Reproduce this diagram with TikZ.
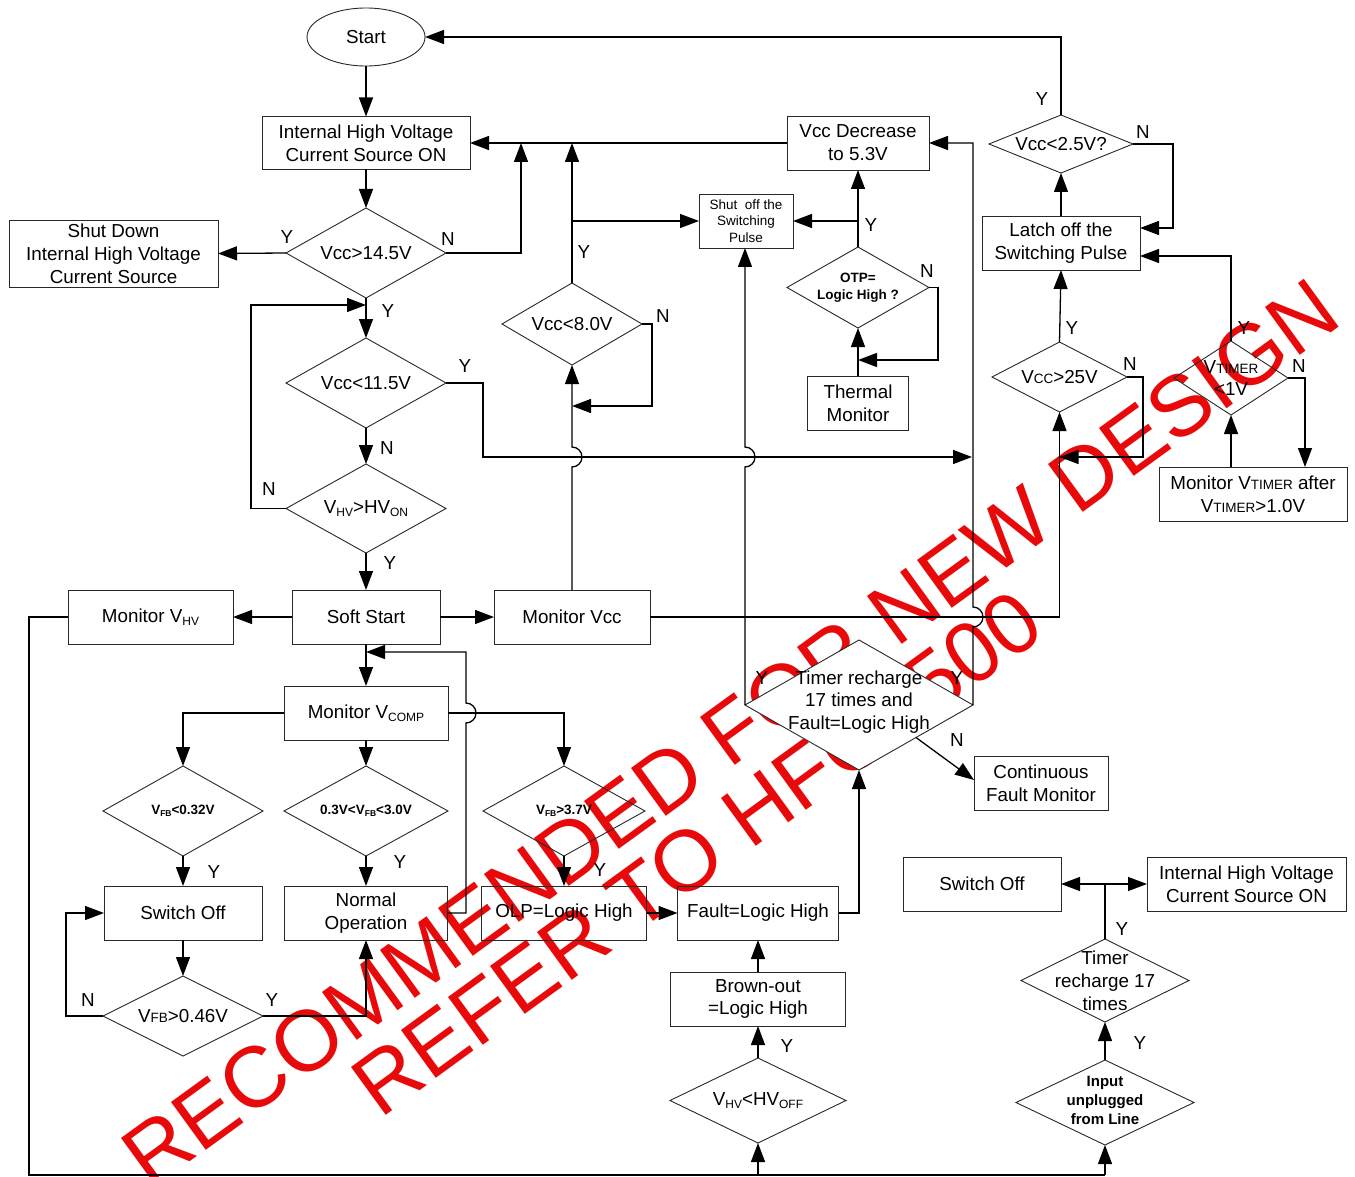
\documentclass[tikz,border=0pt]{standalone}
\usepackage{fontspec}
\setmainfont{Liberation Sans}
\usetikzlibrary{shapes.geometric,arrows.meta}
\newcommand{\myfn}{\fontsize{18.8}{22.8}\selectfont}
\newcommand{\mysmall}{\fontsize{13.5}{16.8}\selectfont}
\newcommand{\mybold}{\fontsize{13.5}{17}\selectfont\bfseries}
\newcommand{\sbs}[1]{\raisebox{-2.5pt}{\fontsize{12}{12}\selectfont #1}}
\newcommand{\smc}[1]{{\fontsize{13.5}{13.5}\selectfont #1}}
\newcommand{\sbb}[1]{\raisebox{-1.5pt}{\fontsize{8.5}{8.5}\selectfont #1}}
\definecolor{wmred}{RGB}{232,10,10}
\definecolor{edge}{RGB}{40,40,40}
\begin{document}
\begin{tikzpicture}[x=1pt,y=1pt,
  box/.style={draw=edge, line width=0.9pt, rectangle, inner sep=0pt, outer sep=0pt, align=center, font=\myfn},
  dia/.style={draw=edge, line width=0.9pt, diamond, inner sep=0pt, outer sep=0pt},
  dtxt/.style={align=center, inner sep=0pt, font=\myfn},
  ar/.style={line width=1.3pt, -{Triangle[length=19pt,width=14pt]}},
  ln/.style={line width=1.3pt},
  lab/.style={font=\myfn, inner sep=0pt},
  wm/.style={text=wmred, rotate=36, inner sep=0pt, font=\fontsize{86}{90}\selectfont}
]
\useasboundingbox (0,0) rectangle (1355,-1177);
\fill[white] (0,0) rectangle (1355,-1177);

% ---------- watermark (behind the chart) ----------
\node[wm] (wm1) at (730,-733) {RECOMMENDED FOR NEW DESIGN};
\node[wm] (wm2) at (697,-853) {REFER TO HFC0500};

% ---------- nodes ----------
\node[box, ellipse, minimum width=118pt, minimum height=58pt] (start) at (366,-37) {Start};
\node[box, minimum width=208pt, minimum height=53pt] (ihv) at (366,-143) {Internal High Voltage\\Current Source ON};
\node[box, minimum width=209pt, minimum height=67pt] (shut) at (113.5,-253.5) {Shut Down\\Internal High Voltage\\Current Source};
\node[dia, minimum width=160pt, minimum height=90pt] (d145) at (366,-253) {};
\node[dtxt] (t145) at (d145) {Vcc>14.5V};
\node[dia, minimum width=160pt, minimum height=90pt] (d115) at (366,-383) {};
\node[dtxt] (t115) at (d115) {Vcc<11.5V};
\node[dia, minimum width=160pt, minimum height=89pt] (dhv) at (366,-508.5) {};
\node[dtxt] (thv) at (dhv) {V\sbs{HV}>HV\sbs{ON}};
\node[box, minimum width=148pt, minimum height=54pt] (soft) at (366,-617) {Soft Start};
\node[box, minimum width=165pt, minimum height=54pt] (mhv) at (150.5,-617) {Monitor V\sbs{HV}};
\node[box, minimum width=156pt, minimum height=54pt] (mvcc) at (572,-617) {Monitor Vcc};
\node[box, minimum width=164pt, minimum height=54pt] (mcomp) at (366,-713) {Monitor V\sbs{COMP}};
\node[dia, minimum width=160pt, minimum height=90pt] (d032) at (183,-811) {};
\node[dtxt, font=\mybold] (t032) at (d032) {V\sbb{FB}<0.32V};
\node[dia, minimum width=164pt, minimum height=90pt] (d30) at (366,-811) {};
\node[dtxt, font=\mybold] (t30) at (d30) {0.3V<V\sbb{FB}<3.0V};
\node[dia, minimum width=162pt, minimum height=90pt] (d37) at (564,-811) {};
\node[dtxt, font=\mybold] (t37) at (d37) {V\sbb{FB}>3.7V};
\node[box, minimum width=158pt, minimum height=54pt] (swoff) at (183,-913) {Switch Off};
\node[box, minimum width=163pt, minimum height=54pt] (normal) at (366,-913) {Normal\\Operation};
\node[box, minimum width=165pt, minimum height=54pt] (olp) at (564,-913) {OLP=Logic High};
\node[box, minimum width=161pt, minimum height=54pt] (fault) at (758,-913) {Fault=Logic High};
\node[dia, minimum width=160pt, minimum height=80pt] (d046) at (183,-1016) {};
\node[dtxt] (t046) at (d046) {V\smc{FB}>0.46V};
\node[box, minimum width=175pt, minimum height=54pt] (brown) at (758,-999) {Brown-out\\=Logic High};
\node[dia, minimum width=176pt, minimum height=85pt] (dhvoff) at (758,-1100.5) {};
\node[dtxt] (thvoff) at (dhvoff) {V\sbs{HV}<HV\sbs{OFF}};
\node[dia, fill=white, minimum width=228pt, minimum height=130pt] (dtimer) at (859,-705) {};
\node[dtxt] (ttimer) at (859,-702) {Timer recharge\\17 times and\\Fault=Logic High};
\node[box, minimum width=134pt, minimum height=54pt] (cont) at (1041,-783) {Continuous\\Fault Monitor};
\node[box, minimum width=158pt, minimum height=54pt] (swoff2) at (982,-884) {Switch Off};
\node[box, minimum width=199pt, minimum height=54pt] (ihv2) at (1246.5,-884) {Internal High Voltage\\Current Source ON};
\node[dia, minimum width=168pt, minimum height=83pt] (d17) at (1105,-980.5) {};
\node[dtxt] (t17) at (d17) {Timer\\recharge 17\\times};
\node[dia, minimum width=178pt, minimum height=85pt] (dinput) at (1105,-1102.5) {};
\node[dtxt, font=\fontsize{15}{19}\selectfont\bfseries] (tinput) at (1105,-1100) {Input\\unplugged\\from Line};
\node[dia, minimum width=140pt, minimum height=82pt] (d8) at (572,-324) {};
\node[dtxt] (t8) at (d8) {Vcc<8.0V};
\node[box, font=\mysmall, minimum width=94pt, minimum height=54pt] (shutoff) at (746,-221) {Shut\ \ off the\\Switching\\Pulse};
\node[box, minimum width=142pt, minimum height=54pt] (vccdec) at (858,-143) {Vcc Decrease\\to 5.3V};
\node[dia, minimum width=142pt, minimum height=81pt] (dotp) at (858,-287.5) {};
\node[dtxt, font=\mybold] (totp) at (dotp) {OTP=\\Logic High ?};
\node[box, minimum width=101pt, minimum height=54pt] (thermal) at (858,-403) {Thermal\\Monitor};
\node[dia, minimum width=144pt, minimum height=58pt] (d25) at (1061,-144) {};
\node[dtxt] (t25) at (d25) {Vcc<2.5V?};
\node[box, minimum width=158pt, minimum height=54pt] (latch) at (1061,-243) {Latch off the\\Switching Pulse};
\node[dia, minimum width=135pt, minimum height=70pt] (d25v) at (1059.5,-377) {};
\node[dtxt] (t25v) at (d25v) {V\smc{CC}>25V};
\node[dia, minimum width=114pt, minimum height=74pt] (dtim) at (1231,-378) {};
\node[dtxt] (ttim) at (1231,-378) {V\smc{TIMER}\\<1V};
\node[box, minimum width=188pt, minimum height=54pt] (mtimer) at (1253,-494) {Monitor V\smc{TIMER} after\\V\smc{TIMER}>1.0V};

% ---------- connectors ----------
\draw[ar] (start.south) -- (ihv.north);
\draw[ar] (ihv.south) -- (d145.north);
\draw[ar] (d145.west) -- (shut.east);
\draw[ar] (d145.east) -- (521,-253) -- (521,-143);
\draw[ar] (vccdec.west) -- (ihv.east);
\draw[ar] (d145.south) -- (d115.north);
\draw[ar] (dhv.west) -- (251,-508.5) -- (251,-305) -- (366,-305);
\draw[ar] (d115.south) -- (dhv.north);
\draw[ar] (d115.east) -- (483,-383) -- (483,-457) -- (972,-457);
\draw[ar] (dtimer.east) -- (973,-627) arc[start angle=-90, end angle=90, radius=10pt] -- (973,-143) -- (vccdec.east);
\draw[ar] (dhv.south) -- (soft.north);
\draw[ar] (soft.west) -- (mhv.east);
\draw[ar] (soft.east) -- (mvcc.west);
\draw[ar] (mvcc.north) -- (572,-467) arc[start angle=-90, end angle=90, radius=10pt] -- (d8.south);
\draw[ar] (d8.east) -- (652,-324) -- (652,-406) -- (572,-406);
\draw[ar] (d8.north) -- (572,-143);
\coordinate (br8) at (572,-221);
\draw[ar] (br8) -- (shutoff.west);
\draw[ar] (mvcc.east) -- (1059.5,-617) -- (d25v.south);
\draw[ar] (dtimer.west) -- (745,-467) arc[start angle=-90, end angle=90, radius=10pt] -- (745,-248);
\draw[ar] (d25v.east) -- (1143,-377) -- (1143,-457) -- (1059.5,-457);
\draw[ar] (d25v.north) -- (latch.south);
\draw[ar] (latch.north) -- (d25.south);
\draw[ar] (d25.east) -- (1173,-144) -- (1173,-228) -- (1140,-228);
\draw[ar] (d25.north) -- (1061,-37) -- (start.east);
\draw[ar] (dtim.north) -- (1231,-256) -- (1140,-256);
\draw[ar] (dtim.east) -- (1305,-378) -- (1305,-467);
\draw[ar] (1231,-467) -- (dtim.south);
\draw[ar] (thermal.north) -- (dotp.south);
\draw[ar] (dotp.east) -- (938,-287.5) -- (938,-360) -- (858,-360);
\draw[ar] (dotp.north) -- (vccdec.south);
\coordinate (brotp) at (858,-221);
\draw[ar] (brotp) -- (shutoff.east);
\draw[ar] (soft.south) -- (mcomp.north);
\draw[ar] (normal.east) -- (466,-913) -- (466,-723) arc[start angle=-90, end angle=90, radius=10pt] -- (466,-652) -- (366,-652);
\draw[ar] (mcomp.west) -- (183,-713) -- (d032.north);
\draw[ar] (mcomp.south) -- (d30.north);
\draw[ar] (mcomp.east) -- (564,-713) -- (d37.north);
\draw[ar] (d032.south) -- (swoff.north);
\draw[ar] (d30.south) -- (normal.north);
\draw[ar] (d37.south) -- (olp.north);
\draw[ar] (swoff.south) -- (d046.north);
\draw[ar] (d046.west) -- (66,-1016) -- (66,-913) -- (swoff.west);
\draw[ar] (d046.east) -- (366,-1016) -- (normal.south);
\draw[ar] (olp.east) -- (fault.west);
\draw[ar] (fault.east) -- (859,-913) -- (dtimer.south);
\draw[ar] (brown.north) -- (fault.south);
\draw[ar] (dhvoff.north) -- (brown.south);
\draw[ar] (dtimer.south east) -- (974,-780);
\draw[ln] (mhv.west) -- (29,-617) -- (29,-1175) -- (1105,-1175);
\coordinate (bhv) at (758,-1175);
\coordinate (bin) at (1105,-1175);
\draw[ar] (bhv) -- (dhvoff.south);
\draw[ar] (bin) -- (dinput.south);
\draw[ar] (dinput.north) -- (d17.south);
\coordinate (j17) at (1105,-884);
\draw[ln] (d17.north) -- (j17);
\draw[ar] (j17) -- (swoff2.east);
\draw[ar] (j17) -- (ihv2.west);

% ---------- Y / N labels ----------
\node[lab] (l1) at (287,-237) {Y};
\node[lab] (l2) at (448,-239) {N};
\node[lab] (l3) at (388,-311) {Y};
\node[lab] (l4) at (465,-366) {Y};
\node[lab] (l5) at (387,-448) {N};
\node[lab] (l6) at (269,-489) {N};
\node[lab] (l7) at (390,-563) {Y};
\node[lab] (l8) at (584,-252) {Y};
\node[lab] (l9) at (663,-316) {N};
\node[lab] (l10) at (871,-225) {Y};
\node[lab] (l11) at (927,-271) {N};
\node[lab] (l12) at (1042,-99) {Y};
\node[lab] (l13) at (1143,-132) {N};
\node[lab] (l14) at (1072,-328) {Y};
\node[lab] (l15) at (1130,-364) {N};
\node[lab] (l16) at (1244,-328) {Y};
\node[lab] (l17) at (1299,-366) {N};
\node[lab] (l18) at (762,-678) {Y};
\node[lab] (l19) at (957,-678) {Y};
\node[lab] (l20) at (957,-740) {N};
\node[lab] (l21) at (214,-872) {Y};
\node[lab] (l22) at (400,-862) {Y};
\node[lab] (l23) at (600,-870) {Y};
\node[lab] (l24) at (88,-1000) {N};
\node[lab] (l25) at (272,-1000) {Y};
\node[lab] (l26) at (787,-1046) {Y};
\node[lab] (l27) at (1122,-929) {Y};
\node[lab] (l28) at (1140,-1043) {Y};
\end{tikzpicture}
\end{document}
